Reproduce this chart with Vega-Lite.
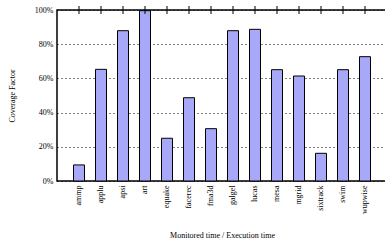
{
  "$schema": "https://vega.github.io/schema/vega-lite/v6.json",
  "autosize": {"type": "none"},
  "width": 330,
  "height": 171,
  "padding": {"left": 57, "top": 10, "right": 0, "bottom": 62},
  "background": "white",
  "config": {
    "font": "Liberation Serif",
    "view": {"stroke": "black", "strokeWidth": 1.5},
    "axis": {"domain": false, "labelFont": "Liberation Serif", "titleFont": "Liberation Serif", "labelColor": "black", "titleColor": "black", "titleFontWeight": "normal", "labelFontSize": 8, "titleFontSize": 8},
    "axisY": {"labelOverlap": false, "labelFlush": false, "grid": true, "gridColor": "black", "gridDash": [1, 3], "gridOpacity": 1, "gridWidth": 1, "ticks": false, "labelPadding": 4, "titlePadding": 18, "tickCount": 6},
    "axisX": {"labelAngle": -90, "labelAlign": "right", "labelBaseline": "middle", "labelPadding": 4, "ticks": false, "titlePadding": 18, "labelOverlap": false}
  },
  "data": {
    "values": [
      {"bench": "ammp", "v": 9.4},
      {"bench": "applu", "v": 65.3},
      {"bench": "apsi", "v": 87.9},
      {"bench": "art", "v": 99.6},
      {"bench": "equake", "v": 25},
      {"bench": "facerec", "v": 48.7},
      {"bench": "fma3d", "v": 30.6},
      {"bench": "galgel", "v": 87.9},
      {"bench": "lucas", "v": 88.7},
      {"bench": "mesa", "v": 65.1},
      {"bench": "mgrid", "v": 61.4},
      {"bench": "sixtrack", "v": 16.2},
      {"bench": "swim", "v": 65.1},
      {"bench": "wupwise", "v": 72.7}
    ]
  },
  "encoding": {
    "x": {
      "field": "bench", "type": "nominal", "sort": null,
      "scale": {"paddingInner": 0.5, "paddingOuter": 0.75},
      "axis": {"title": "Monitored time / Execution time"}
    }
  },
  "layer": [
    {
      "mark": {"type": "bar", "fill": "#a8a8f8", "stroke": "black", "strokeWidth": 1},
      "encoding": {
        "y": {
          "field": "v", "type": "quantitative",
          "scale": {"domain": [0, 100], "nice": false},
          "axis": {"title": "Coverage Factor", "values": [0, 20, 40, 60, 80, 100], "labelExpr": "datum.value + '%'"}
        }
      }
    },
    {
      "mark": {"type": "tick", "orient": "vertical", "color": "black", "thickness": 1, "size": 8, "opacity": 1},
      "encoding": {
        "y": {"datum": 100, "type": "quantitative"}
      }
    }
  ]
}
